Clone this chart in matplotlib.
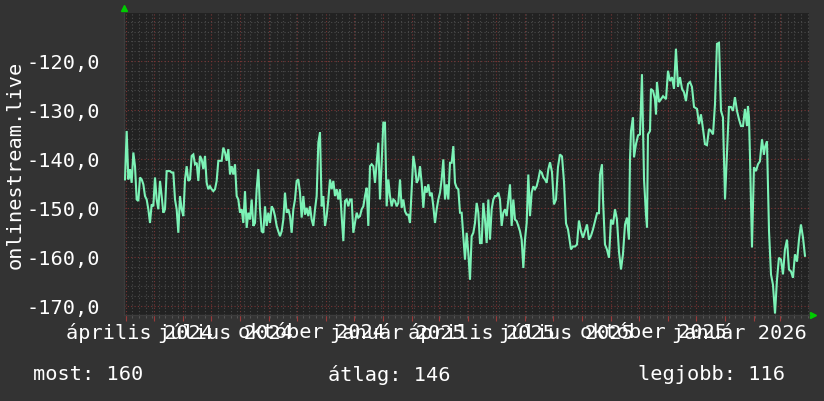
import matplotlib
matplotlib.use("Agg")
import matplotlib.pyplot as plt
import matplotlib.dates as mdates
from matplotlib.ticker import MultipleLocator, FuncFormatter
import numpy as np

# ---- data ----
START = np.datetime64("2024-03-30")
X_END_DAYS = 731.6

# first stretch: one sample every 1.78 days starting at day 1.07
AB_FIRST_DAY = 1.07
AB_STEP_DAYS = 1.78
values_ab = [
    -144.2, -134.3, -144.2, -142.1, -144.9, -138.7, -141.5, -148.3, -148.6, -143.8,
    -144.2, -145.2, -147.6, -148.3, -150.3, -153.1, -149.3, -149.7, -143.8, -148.3,
    -150.3, -144.5, -147.6, -151.0, -150.3, -142.5, -142.5, -142.5, -142.8, -142.8,
    -148.3, -150.3, -155.1, -147.6, -150.3, -151.7, -144.2, -141.5, -144.5, -144.2,
    -139.4, -139.1, -141.1, -140.8, -144.5, -139.4, -140.1, -142.1, -139.4, -144.9,
    -146.2, -145.6, -146.2, -146.6, -146.2, -144.5, -140.4, -140.4, -140.4, -137.7,
    -138.7, -140.4, -138.0, -143.2, -141.5, -143.2, -141.1, -147.6, -148.3, -151.0,
    -150.3, -153.1, -146.6, -154.1, -151.0, -152.4, -148.3, -153.7, -153.1, -146.2,
    -142.1, -150.3, -154.8, -155.1, -149.7, -153.7, -151.0, -153.1, -149.7, -150.3,
    -151.7, -153.7, -154.8, -155.8, -154.8, -152.4, -146.9, -151.0, -150.3, -151.7,
    -155.1, -150.3, -148.3, -144.5, -144.2, -146.9, -152.0, -147.6, -151.4, -150.0,
    -151.7, -149.7, -152.4, -153.7, -150.3, -147.6, -136.7, -134.6,
    # ---
    -149.7, -147.6, -153.7, -151.7, -148.3, -144.2, -146.2, -144.5, -147.6, -146.2,
    -148.3, -146.2, -151.7, -156.8, -148.6, -148.3, -149.7, -148.3, -148.3, -155.1,
    -153.1, -151.0, -152.0, -151.7, -150.3, -149.7, -147.6, -145.9, -153.7, -141.5,
    -141.1, -141.5, -144.9, -140.8, -136.7, -148.3, -140.8, -132.6, -132.6, -149.7,
    -144.2, -147.6, -149.7, -148.3, -148.6, -149.7, -149.0, -144.2, -150.0, -148.3,
    -150.7, -151.4, -151.4, -153.1, -146.2, -139.4, -141.5, -144.9, -144.2, -141.5,
    -144.9, -150.0, -145.6, -146.9, -145.2, -147.6, -146.9, -149.7, -153.1, -150.3,
    -148.3, -146.9, -144.2, -140.1, -148.3, -145.2, -148.3, -140.8, -140.8, -137.4,
    -144.9, -145.9, -146.2, -151.0, -151.0, -155.8, -160.6, -155.1, -159.2, -164.7,
    -155.8, -155.1, -153.1, -149.0, -151.0, -157.2, -157.2, -149.0, -152.4, -157.2,
    -148.3, -156.5, -150.3, -148.3, -147.6, -147.6, -146.9, -148.3, -153.7, -151.0,
    -150.3, -151.7, -148.3, -145.2, -153.7, -148.3, -152.4, -152.7, -153.7, -154.8,
    -156.5, -162.3, -156.5, -153.1, -143.2, -151.7, -146.9, -145.6, -146.2, -145.6,
    -144.2, -142.5, -142.8, -143.8, -144.2, -144.9, -142.1,
]

# last stretch: irregular samples, day offsets from START
days_c = [
    455.0, 457.1, 459.2, 461.4, 463.5, 465.6, 467.8, 469.9, 472.1, 474.2,
    477.4, 479.5, 481.7, 483.8, 485.9, 488.1, 490.2, 492.3, 494.5, 496.6,
    498.8, 500.9, 503.0, 505.2, 507.3, 508.4, 510.5, 511.6, 513.7, 515.8,
    518.0, 520.1, 522.3, 524.4, 526.5, 528.7, 530.8, 532.9, 535.1, 537.2,
    539.3, 540.4, 541.5, 543.6, 544.7, 546.8, 549.0, 551.1, 553.2, 555.4,
    557.5, 558.6, 559.6, 561.8, 562.8, 565.0, 567.1, 568.2, 569.2, 571.4,
    573.5, 575.7, 578.9, 581.0, 583.1, 585.3, 587.4, 589.5, 591.7, 593.8,
    596.0, 598.1, 600.2, 602.4, 604.5, 606.6, 608.8, 612.0, 614.1, 616.2,
    618.4, 620.5, 622.6, 624.8, 626.9, 629.1, 631.2, 633.3, 635.5, 637.6,
    639.7, 641.9, 644.0, 646.1, 648.3, 650.4, 652.5, 654.7, 656.8, 659.0,
    661.1, 663.2, 665.4, 666.4, 667.5, 668.6, 670.7, 672.8, 675.0, 677.1,
    679.2, 681.4, 683.5, 684.6, 686.7, 688.9, 691.0, 693.1, 695.3, 697.4,
    699.5, 701.7, 703.8, 705.9, 708.1, 710.2, 712.4, 714.5, 716.6, 718.8,
    720.9, 723.0, 725.2, 727.3,
]
values_c = [
    -140.7, -142.7, -149.3, -148.3, -141.7, -139.1, -139.5, -144.6, -153.2, -154.4,
    -158.5, -157.9, -157.9, -157.5, -152.6, -154.8, -156.1, -154.8, -153.4, -156.5,
    -155.7, -154.4, -152.8, -151.1, -151.1, -143.2, -141.1, -148.3, -157.5, -158.5,
    -160.2, -152.4, -153.4, -150.3, -152.4, -159.1, -162.6, -159.5, -153.4, -152.0,
    -156.5, -140.1, -134.3, -131.5, -139.7, -137.0, -135.2, -135.0, -122.7, -144.2,
    -151.4, -154.0, -135.0, -134.3, -125.7, -126.1, -127.8, -130.9, -124.3, -128.4,
    -127.8, -127.2, -127.8, -122.0, -124.1, -123.3, -125.7, -117.5, -125.3, -123.3,
    -125.7, -126.4, -128.2, -124.7, -124.3, -125.3, -129.4, -129.8, -132.9, -130.9,
    -133.9, -137.0, -137.2, -133.9, -134.3, -135.0, -128.8, -116.5, -116.3, -130.2,
    -131.5, -148.3, -138.6, -129.4, -129.4, -130.2, -127.4, -130.2, -131.9, -133.3,
    -133.3, -129.8, -133.3, -129.2, -131.5, -139.7, -158.1, -141.7, -142.5, -141.1,
    -140.5, -136.0, -139.1, -137.6, -136.4, -154.8, -163.6, -165.7, -171.6, -164.7,
    -160.2, -160.6, -163.6, -158.5, -156.5, -162.6, -163.0, -164.3, -159.5, -161.0,
    -156.5, -153.4, -156.1, -159.8,
]

month_labels = ["április 2024", "július 2024", "október 2024", "január 2025",
                "április 2025", "július 2025", "október 2025", "január 2026"]
month_starts = ["2024-04-01", "2024-07-01", "2024-10-01", "2025-01-01",
                "2025-04-01", "2025-07-01", "2025-10-01", "2026-01-01"]

ylabel = "onlinestream.live"
stats = [("most", 160), ("átlag", 146), ("legjobb", 116)]

# ---- build time axis ----
days_ab = AB_FIRST_DAY + AB_STEP_DAYS * np.arange(len(values_ab))
days = np.concatenate([days_ab, np.array(days_c)])
vals = np.concatenate([np.array(values_ab), np.array(values_c)])
t = START + (days * 86400).astype("timedelta64[s]")

BG = "#333333"
PLOT_BG = "#222222"
FG = "#ffffff"
LINE = "#7cf2b6"
MONO = "DejaVu Sans Mono"

fig = plt.figure(figsize=(8.24, 4.02), dpi=100, facecolor=BG)
ax = fig.add_axes([124 / 824, 1 - 316 / 402, 685 / 824, 302 / 402])
ax.set_facecolor(PLOT_BG)

ax.plot(t, vals, color=LINE, lw=1.5, solid_joinstyle="miter", zorder=3)

ax.set_xlim(START, START + np.timedelta64(int(X_END_DAYS * 86400), "s"))
ax.set_ylim(-171.9, -110.2)

# grid: red dotted majors, grey dotted minors
ax.xaxis.set_major_locator(mdates.MonthLocator())
ax.xaxis.set_minor_locator(mdates.WeekdayLocator(byweekday=mdates.MO))
ax.yaxis.set_major_locator(MultipleLocator(10))
ax.yaxis.set_minor_locator(MultipleLocator(2))
ax.grid(which="minor", color="#4a4a4a", lw=0.8, ls=(0, (1, 2)), zorder=1)
ax.grid(which="major", color="#7a3535", lw=0.8, ls=(0, (1, 2)), zorder=2)
ax.set_axisbelow(True)

ax.yaxis.set_major_formatter(FuncFormatter(lambda v, _: f"{v:.1f}".replace(".", ",")))
ax.tick_params(axis="y", which="major", colors=FG, labelsize=14.6, length=0, pad=17)
ax.tick_params(axis="y", which="minor", length=0)
ax.tick_params(axis="x", which="major", color="#9a3a3a", length=4, width=0.8, labelbottom=False)
ax.tick_params(axis="x", which="minor", color="#555555", length=2, width=0.8)
for lab in ax.get_yticklabels():
    lab.set_family(MONO)

for s in ("top", "right"):
    ax.spines[s].set_visible(False)
for s in ("left", "bottom"):
    ax.spines[s].set_color("#3c3c3c")
    ax.spines[s].set_linewidth(1)

# arrow heads at the axis ends
ax.plot([0], [1.017], marker="^", color="#00cc00", ms=5, transform=ax.transAxes, clip_on=False)
ax.plot([1.006], [0], marker=">", color="#00cc00", ms=5, transform=ax.transAxes, clip_on=False)

# month labels, centred in the middle of each month (they overlap like the original)
for lab, ms in zip(month_labels, month_starts):
    mid = np.datetime64(ms) + np.timedelta64(15, "D")
    ax.text(mdates.date2num(mid), -0.056, lab, transform=ax.get_xaxis_transform(),
            ha="center", va="center", color=FG, fontsize=14.6, family=MONO)

fig.text(15 / 824, 1 - 165 / 402, ylabel, rotation=90, ha="center", va="center",
         color=FG, fontsize=14.6, family=MONO)

stat_x = [33, 328, 638]
for (name, v), x in zip(stats, stat_x):
    fig.text(x / 824, 1 - 375 / 402, f"{name}: {v}", ha="left", va="center",
             color=FG, fontsize=14.6, family=MONO)

fig.savefig("out.png", dpi=100, facecolor=BG)
